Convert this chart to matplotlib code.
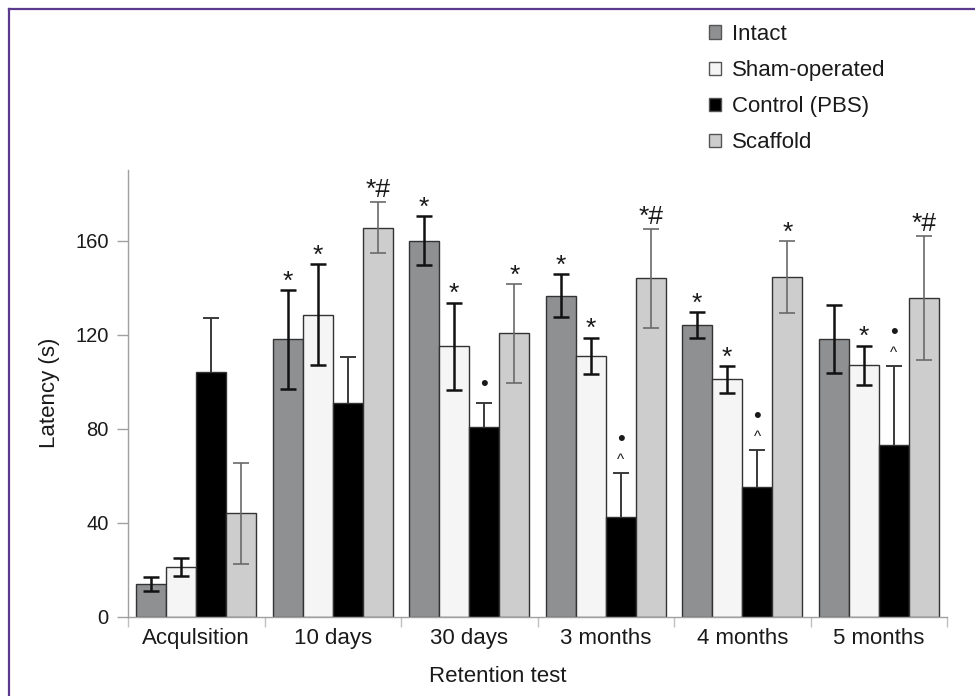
import matplotlib
matplotlib.use("Agg")
import matplotlib.pyplot as plt
import numpy as np
from matplotlib.patches import Patch
from matplotlib.lines import Line2D

plt.rcParams['font.family'] = ['Liberation Sans', 'DejaVu Sans']

categories = ['Acqulsition', '10 days', '30 days', '3 months', '4 months', '5 months']
series_names = ['Intact', 'Sham-operated', 'Control (PBS)', 'Scaffold']

intact = [14, 118, 160, 136.5, 124, 118]
intact_err = [3, 21, 10.5, 9.2, 5.4, 14.4]
sham = [21, 128.5, 115, 111, 101, 107]
sham_err = [3.8, 21.5, 18.6, 7.7, 5.7, 8.3]
control = [104, 91, 80.5, 42.5, 55, 73]
control_err = [23, 19.4, 10.2, 18.6, 16, 33.6]
scaffold = [44, 165.5, 120.5, 144, 144.5, 135.5]
scaffold_err = [21.5, 11, 21, 21, 15.3, 26.4]

intact_marks = ['', '*', '*', '*', '*', '']
sham_marks = ['', '*', '*', '*', '*', '*']
control_dot = ['', '', '•', '•', '•', '•']
control_caret = ['', '', '', '^', '^', '^']
scaffold_marks = ['', '*#', '*', '*#', '*', '*#']

yticks = [0, 40, 80, 120, 160]

W, H = 975, 696
fig = plt.figure(figsize=(W / 100, H / 100), dpi=100)
ax = fig.add_axes([128 / W, 1 - 616.7 / H, (947 - 128) / W, (616.7 - 170) / H])

values = [intact, sham, control, scaffold]
errs = [intact_err, sham_err, control_err, scaffold_err]
colors = ['#8f9091', '#f4f5f4', '#000000', '#cdcdcd']
err_colors = ['#111111', '#111111', '#3a3a3a', '#6a6a6a']
err_lw = [1.8, 1.8, 1.4, 1.2]
err_z = [3, 3, 1.5, 3]
bw = 0.22
x = np.arange(len(categories))
offsets = (np.arange(4) - 1.5) * bw

for i in range(4):
    ax.bar(x + offsets[i], values[i], width=bw, color=colors[i],
           edgecolor='#333333', linewidth=1.0, zorder=2)
    ax.errorbar(x + offsets[i], values[i], yerr=errs[i], fmt='none',
                ecolor=err_colors[i], elinewidth=err_lw[i], capsize=5.5,
                capthick=err_lw[i], zorder=err_z[i])

txtc = '#1a1a1a'
star_lists = [intact_marks, sham_marks, None, scaffold_marks]
for i, marks in enumerate(star_lists):
    if marks is None:
        continue
    for j, m in enumerate(marks):
        if m:
            top = values[i][j] + errs[i][j]
            off = 2.2 if '#' in m else 0.6
            ax.text(x[j] + offsets[i], top + off, m, ha='center', va='baseline',
                    fontsize=19, color=txtc, zorder=4)

for j in range(len(categories)):
    top = control[j] + control_err[j]
    xx = x[j] + offsets[2]
    if control_caret[j]:
        ax.text(xx, top + 3.8, control_caret[j], ha='center', va='baseline',
                fontsize=11, color=txtc, zorder=4)
        if control_dot[j]:
            ax.text(xx, top + 12.0, control_dot[j], ha='center', va='baseline',
                    fontsize=16, color=txtc, zorder=4)
    elif control_dot[j]:
        ax.text(xx, top + 5.8, control_dot[j], ha='center', va='baseline',
                fontsize=16, color=txtc, zorder=4)

ax.set_xlim(-0.5, len(categories) - 0.5)
ax.set_ylim(0, 190)
ax.set_yticks(yticks)
ax.set_yticklabels([str(t) for t in yticks])
ax.set_xticks(x)
ax.set_xticklabels(categories)
ax.set_xticks(np.arange(len(categories) + 1) - 0.5, minor=True)

for s in ['top', 'right']:
    ax.spines[s].set_visible(False)
for s in ['left', 'bottom']:
    ax.spines[s].set_color('#a0a0a0')
    ax.spines[s].set_linewidth(1.0)

ax.tick_params(axis='y', length=8, width=1, color='#a0a0a0', labelsize=14.5,
               labelcolor=txtc, pad=6)
ax.tick_params(axis='x', which='major', length=0, labelsize=16,
               labelcolor=txtc, pad=8)
ax.tick_params(axis='x', which='minor', length=7, width=1, color='#c0c0c0')

fig.text(498 / W, 1 - 676 / H, 'Retention test', ha='center', va='center',
         fontsize=16, color=txtc)
fig.text(50 / W, 1 - 393 / H, 'Latency (s)', ha='center', va='center',
         rotation=90, fontsize=16, color=txtc)

handles = [Patch(facecolor=c, edgecolor='#555555', linewidth=1.0) for c in colors]
fig.legend(handles, series_names, loc='upper left',
           bbox_to_anchor=(709 / W, 1 - 24 / H), frameon=False,
           fontsize=16, handlelength=0.55, handleheight=0.55,
           handletextpad=0.5, labelspacing=0.68, borderpad=0, borderaxespad=0,
           labelcolor=txtc)

purple = '#5b3a8e'
fig.add_artist(Line2D([9 / W, 1.0], [1 - 9 / H, 1 - 9 / H], color=purple,
                      linewidth=1.6, transform=fig.transFigure))
fig.add_artist(Line2D([9 / W, 9 / W], [1 - 9 / H, 0.0], color=purple,
                      linewidth=1.6, transform=fig.transFigure))

fig.savefig('out.png', dpi=100)
